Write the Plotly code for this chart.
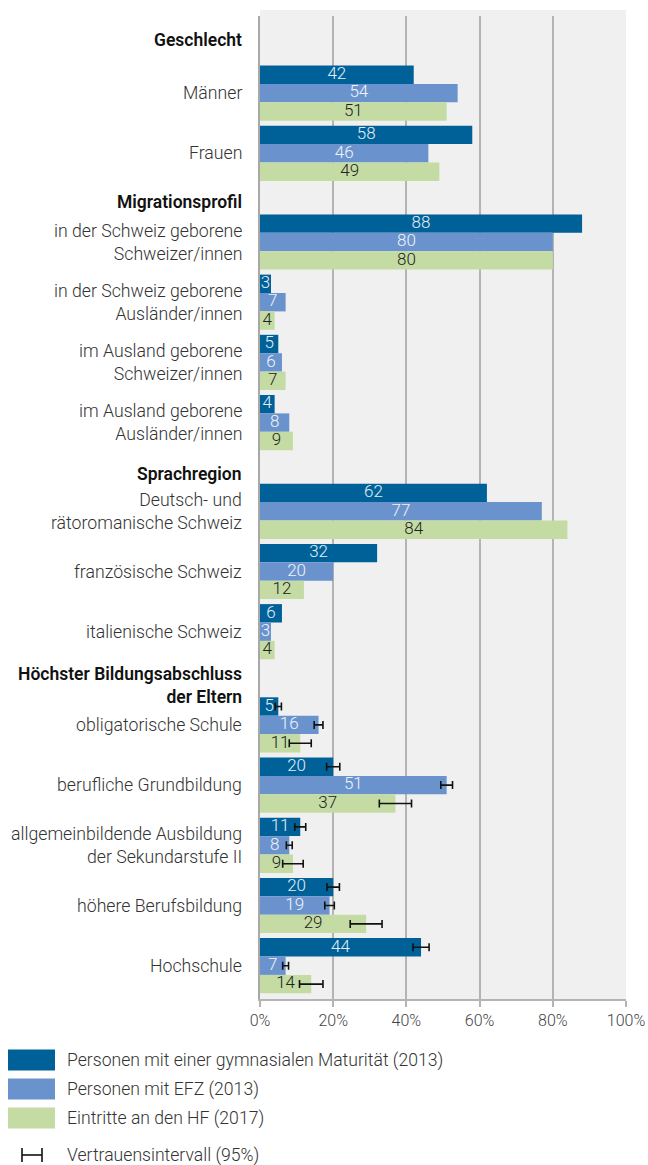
import plotly.graph_objects as go
import numpy as np

# ---------------- data ----------------
groups = ["Geschlecht", "Migrationsprofil", "Sprachregion",
          "Höchster Bildungsabschluss<br>der Eltern"]
categories = [
    ["Männer", "Frauen"],
    ["in der Schweiz geborene<br>Schweizer/innen",
     "in der Schweiz geborene<br>Ausländer/innen",
     "im Ausland geborene<br>Schweizer/innen",
     "im Ausland geborene<br>Ausländer/innen"],
    ["Deutsch- und<br>rätoromanische Schweiz",
     "französische Schweiz",
     "italienische Schweiz"],
    ["obligatorische Schule",
     "berufliche Grundbildung",
     "allgemeinbildende Ausbildung<br>der Sekundarstufe II",
     "höhere Berufsbildung",
     "Hochschule"],
]
series_names = ["Personen mit einer gymnasialen Maturität (2013)",
                "Personen mit EFZ (2013)",
                "Eintritte an den HF (2017)"]
matura = [42, 58, 88, 3, 5, 4, 62, 32, 6, 5, 20, 11, 20, 44]
efz = [54, 46, 80, 7, 6, 8, 77, 20, 3, 16, 51, 8, 19, 7]
hf = [51, 49, 80, 4, 7, 9, 84, 12, 4, 11, 37, 9, 29, 14]
# 95% confidence interval half widths (only for "Höchster Bildungsabschluss der Eltern")
ci_matura = [0.85, 1.8, 1.5, 1.7, 2.2]
ci_efz = [1.2, 1.6, 0.8, 1.3, 0.8]
ci_hf = [3.0, 4.4, 2.8, 4.35, 3.2]
ci_label = "Vertrauensintervall (95%)"
xticks = [0, 20, 40, 60, 80, 100]
xtick_labels = ["0%", "20%", "40%", "60%", "80%", "100%"]

# ---------------- styles / layout ----------------
W, H = 648, 1165
L, R, T, B = 260, 22, 16, 166
PLOT_TOP, PLOT_BOT = T, H - B
PW = W - L - R
PH = PLOT_BOT - PLOT_TOP
colors = ["#006199", "#6a93cd", "#c4dca3"]
text_colors = ["#e4eef6", "#eef3fa", "#222222"]
FONT = "Roboto"
ROW = 60.2
BAR_H = 18.4
GAP_BEFORE = [47, 28.5, 28.5, 33]
HEADER_ABOVE = [23, 10, 7, 9.5]

# compute row centres (pixel units along the y axis)
centers, header_y = [], []
cursor = PLOT_TOP
for gi, cats in enumerate(categories):
    cursor += GAP_BEFORE[gi]
    header_y.append(cursor - HEADER_ABOVE[gi])
    for _ in cats:
        centers.append(cursor + ROW / 2)
        cursor += ROW
centers = np.array(centers)
labels = [c for cats in categories for c in cats]

fig = go.Figure()
all_vals = [matura, efz, hf]
for i, (vals, name) in enumerate(zip(all_vals, series_names)):
    ys = centers + (i - 1) * BAR_H
    fig.add_trace(go.Bar(
        x=vals, y=ys, orientation="h", width=BAR_H,
        marker=dict(color=colors[i], line=dict(width=0)),
        name=name, showlegend=False, hoverinfo="x"))
for i, vals in enumerate(all_vals):
    ys = centers + (i - 1) * BAR_H
    fig.add_trace(go.Scatter(
        x=[v / 2 for v in vals], y=ys, mode="text",
        text=[str(v) for v in vals],
        textfont=dict(family=FONT, size=17, color=text_colors[i], weight=300),
        showlegend=False, hoverinfo="skip"))

# error bars for the education group
n_edu = len(categories[3])
edu_idx = slice(len(labels) - n_edu, len(labels))
for i, (vals, ci) in enumerate(zip(all_vals, [ci_matura, ci_efz, ci_hf])):
    ys = (centers + (i - 1) * BAR_H)[edu_idx]
    fig.add_trace(go.Scatter(
        x=vals[edu_idx], y=ys, mode="markers",
        marker=dict(size=1, color="rgba(0,0,0,0)"),
        error_x=dict(type="data", array=ci, visible=True, color="#111111",
                     thickness=1.6, width=4),
        showlegend=False, hoverinfo="skip"))

def px_x(p):
    return (p - L) / PW

def px_y(p):
    return (PLOT_BOT - p) / PH

annotations = []
for lab, c in zip(labels, centers):
    annotations.append(dict(
        x=px_x(244), xref="paper", y=c, yref="y", text=lab, showarrow=False,
        xanchor="right", yanchor="middle", align="right",
        font=dict(family=FONT, size=17.7, color="#333333", weight=300)))
for g, hy in zip(groups, header_y):
    annotations.append(dict(
        x=px_x(244), xref="paper", y=hy, yref="y", text=g, showarrow=False,
        xanchor="right", yanchor="middle", align="right",
        font=dict(family=FONT, size=17.5, color="#111111", weight=600)))

# legend (drawn manually)
shapes = [dict(type="rect", xref="paper", yref="paper", x0=0, x1=1,
               y0=1, y1=px_y(10), fillcolor="#f0f0f0", line=dict(width=0),
               layer="below")]
leg_y = [1060, 1089, 1118]
for i, (name, yy) in enumerate(zip(series_names, leg_y)):
    shapes.append(dict(type="rect", xref="paper", yref="paper",
                       x0=px_x(8), x1=px_x(55), y0=px_y(yy - 10.5), y1=px_y(yy + 10.5),
                       fillcolor=colors[i], line=dict(width=0)))
    annotations.append(dict(x=px_x(65), xref="paper", y=px_y(yy), yref="paper",
                            text=name, showarrow=False, xanchor="left", yanchor="middle",
                            font=dict(family=FONT, size=17.6, color="#333333", weight=300)))
cy = 1155
for x0, x1, y0, y1 in [(22, 22, cy - 7, cy + 7), (42, 42, cy - 7, cy + 7), (22, 42, cy, cy)]:
    shapes.append(dict(type="line", xref="paper", yref="paper",
                       x0=px_x(x0), x1=px_x(x1), y0=px_y(y0), y1=px_y(y1),
                       line=dict(color="#111111", width=1.6)))
annotations.append(dict(x=px_x(65), xref="paper", y=px_y(cy), yref="paper",
                        text=ci_label, showarrow=False, xanchor="left", yanchor="middle",
                        font=dict(family=FONT, size=17.6, color="#333333", weight=300)))

fig.update_layout(
    width=W, height=H, margin=dict(l=L, r=R, t=T, b=B, pad=0, autoexpand=False),
    paper_bgcolor="white", plot_bgcolor="#f0f0f0",
    barmode="overlay", showlegend=False,
    annotations=annotations, shapes=shapes,
    font=dict(family=FONT),
    xaxis=dict(range=[0, 100], tickvals=xticks, ticktext=xtick_labels,
               automargin=False,
               showgrid=True, gridcolor="#b4b4b4", gridwidth=1.6,
               zeroline=False, showline=True, linecolor="#b4b4b4", linewidth=1.6,
               ticks="outside", ticklen=6, tickcolor="#b4b4b4", tickwidth=1.6,
               tickfont=dict(family=FONT, size=16, color="#444444", weight=300),
               fixedrange=True),
    yaxis=dict(range=[PLOT_BOT, PLOT_TOP], showticklabels=False, showgrid=False,
               automargin=False,
               zeroline=False, showline=True, linecolor="#a8a8a8", linewidth=2,
               fixedrange=True),
)
fig.write_html("out.html", config={"displayModeBar": False},
               post_script="document.body.style.margin='0';document.body.style.overflow='hidden';")
